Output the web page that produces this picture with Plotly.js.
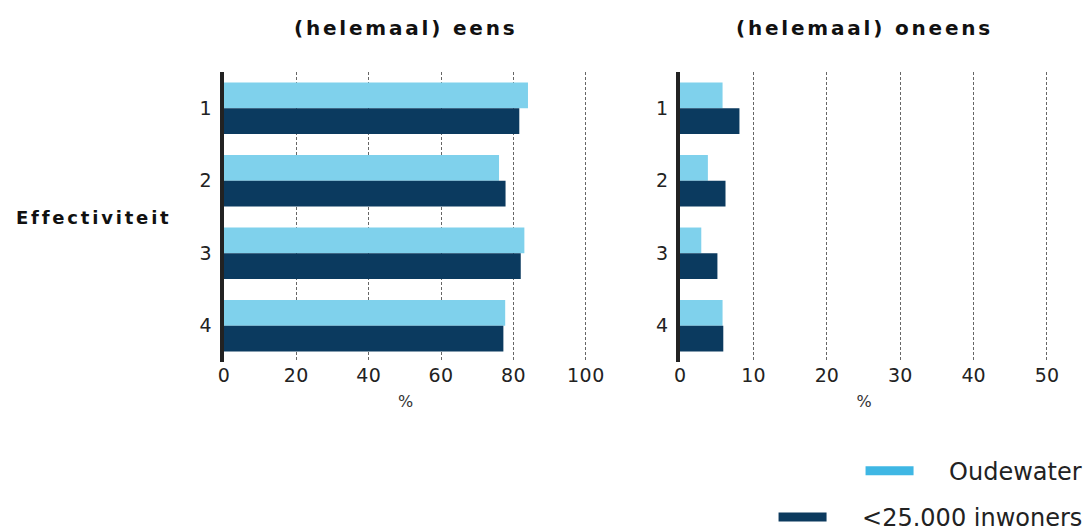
<!DOCTYPE html>
<html>
<head>
<meta charset="utf-8">
<script src="https://cdn.plot.ly/plotly-3.0.1.min.js"></script>
<style>
  html, body { margin: 0; padding: 0; background: #fff; }
  #chart { width: 1084px; height: 532px; }
  /* the source chart uses widely spaced lettering; not scoped so Plotly's text measuring sees it too */
  .annotation-text { letter-spacing: 2.8px; }
  #chart .xtick text, #chart .ytick text { letter-spacing: 0.5px; }
</style>
</head>
<body>
<div id="chart"></div>
<script>
const STATEMENTS = ["1", "2", "3", "4"];

const EENS_OUDEWATER = [84, 76, 83, 77.7];
const EENS_KLEIN     = [81.6, 77.8, 82, 77.2];

const ONEENS_OUDEWATER = [5.8, 3.8, 2.9, 5.8];
const ONEENS_KLEIN     = [8.1, 6.2, 5.1, 5.9];

const SERIES_NAMES = ["Oudewater", "&lt;25.000 inwoners"];
const BAR_COLORS = ["#7fd1ec", "#0b3a5f"];
const LEGEND_COLORS = ["#3fb7e4", "#0c3a5e"];

const DIV = document.querySelector("#chart");
const FONT = "DejaVu Sans, Verdana, sans-serif";
const GAP = "\u00a0\u00a0\u00a0\u00a0";

function barTrace(values, i, axis) {
    return {
        type: "bar",
        orientation: "h",
        y: STATEMENTS,
        x: values,
        name: SERIES_NAMES[i],
        marker: { color: BAR_COLORS[i] },
        xaxis: axis[0],
        yaxis: axis[1],
        showlegend: false,
        hoverinfo: "x"
    };
}

// legend swatches (wide thin bars) via line traces
function legendTrace(i) {
    return {
        type: "scatter",
        mode: "lines",
        x: [null],
        y: [null],
        name: GAP + SERIES_NAMES[i],
        line: { color: LEGEND_COLORS[i], width: 9 },
        legend: i === 0 ? "legend" : "legend2",
        hoverinfo: "skip"
    };
}

let data = [
    barTrace(EENS_OUDEWATER, 0, ["x", "y"]),
    barTrace(EENS_KLEIN, 1, ["x", "y"]),
    barTrace(ONEENS_OUDEWATER, 0, ["x2", "y2"]),
    barTrace(ONEENS_KLEIN, 1, ["x2", "y2"]),
    legendTrace(0),
    legendTrace(1)
];

function xAxis(domain, range, dtick, anchor) {
    return {
        domain: domain,
        range: range,
        dtick: dtick,
        anchor: anchor,
        showgrid: true,
        gridcolor: "#666",
        griddash: "3px,2px",
        gridwidth: 1,
        zeroline: false,
        showline: false,
        ticks: "",
        tickfont: { family: FONT, size: 19, color: "#222" },
        title: { text: "%", font: { family: FONT, size: 16, color: "#333" }, standoff: 10 },
        fixedrange: true
    };
}

function yAxis(anchor) {
    return {
        anchor: anchor,
        autorange: "reversed",
        type: "category",
        showline: true,
        linecolor: "#222",
        linewidth: 4,
        showgrid: false,
        zeroline: false,
        ticks: "",
        ticklabelstandoff: 4,
        tickfont: { family: FONT, size: 19, color: "#222" },
        fixedrange: true
    };
}

const legendFont = { family: FONT, size: 24, color: "#222" };

let layout = {
    width: 1084,
    height: 532,
    margin: { l: 224, r: 36, t: 72, b: 170, autoexpand: false },
    paper_bgcolor: "#fff",
    plot_bgcolor: "#fff",
    barmode: "group",
    bargap: 0.29,
    bargroupgap: 0,
    xaxis: xAxis([0, 0.4405], [0, 100.3], 20, "y"),
    yaxis: yAxis("x"),
    xaxis2: xAxis([0.5534, 1], [0, 50.15], 10, "y2"),
    yaxis2: yAxis("x2"),
    legend: {
        x: 1.048, xanchor: "right", y: -0.376, yanchor: "middle", maxheight: 200,
        font: legendFont, itemwidth: 48, bgcolor: "rgba(0,0,0,0)"
    },
    legend2: {
        x: 1.048, xanchor: "right", y: -0.536, yanchor: "middle", maxheight: 200,
        font: legendFont, itemwidth: 48, bgcolor: "rgba(0,0,0,0)"
    },
    annotations: [
        {
            text: "<b>(helemaal) eens</b>", xref: "x domain", yref: "paper",
            x: 0.5, y: 1, yshift: 44, xanchor: "center", yanchor: "middle",
            showarrow: false, font: { family: FONT, size: 20, color: "#111" }
        },
        {
            text: "<b>(helemaal) oneens</b>", xref: "x2 domain", yref: "paper",
            x: 0.5, y: 1, yshift: 44, xanchor: "center", yanchor: "middle",
            showarrow: false, font: { family: FONT, size: 20, color: "#111" }
        },
        {
            text: "<b>Effectiviteit</b>", xref: "paper", yref: "paper",
            x: -0.2718, y: 0.5, xshift: 14, xanchor: "left", yanchor: "middle",
            showarrow: false, font: { family: FONT, size: 18, color: "#111" }
        }
    ]
};

const CONFIG = { displayModeBar: false, responsive: false };

Plotly.newPlot(DIV, data, layout, CONFIG);
</script>
</body>
</html>
